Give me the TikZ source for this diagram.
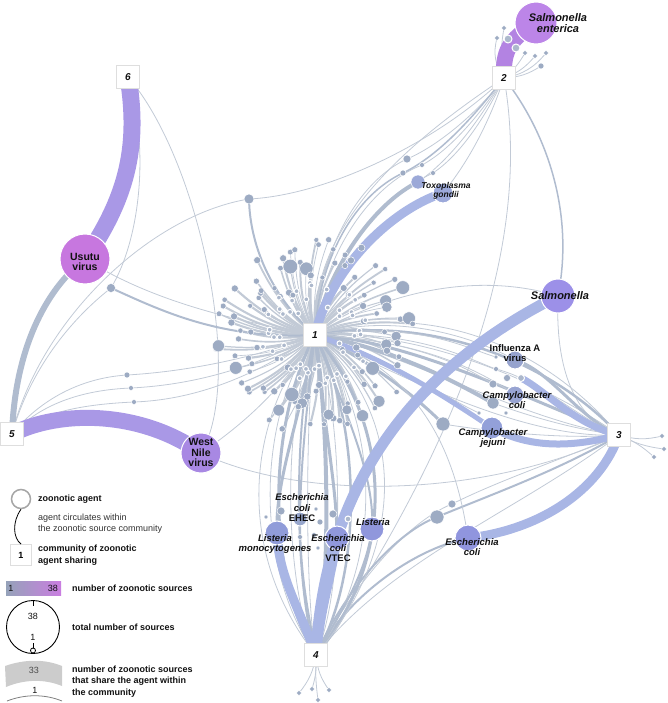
\documentclass[tikz,border=0pt]{standalone}
\usepackage{fontspec}
\setmainfont{Liberation Sans}
\definecolor{thinl}{HTML}{C2CAD6}
\definecolor{midl}{HTML}{B0BCCF}
\definecolor{bandb}{HTML}{A9B6E5}
\definecolor{bandp}{HTML}{A998E6}
\definecolor{bandpp}{HTML}{B383E2}
\definecolor{dotc}{HTML}{9DABC3}
\definecolor{boxl}{HTML}{DEDEDE}
\definecolor{txt}{HTML}{111111}
\definecolor{usuC}{HTML}{C777DF}
\definecolor{wnvC}{HTML}{A888E3}
\definecolor{senC}{HTML}{BC85E8}
\definecolor{salC}{HTML}{9C90E8}
\definecolor{toxC}{HTML}{9CA9DA}
\definecolor{infC}{HTML}{96A3CE}
\definecolor{ccoC}{HTML}{98A4D2}
\definecolor{cjeC}{HTML}{93A0D9}
\definecolor{lmoC}{HTML}{909CD9}
\definecolor{eheC}{HTML}{97A6CC}
\definecolor{vteC}{HTML}{9098DC}
\definecolor{lisC}{HTML}{9097DC}
\definecolor{ecoC}{HTML}{9095DE}
\tikzset{
  thinln/.style={draw=thinl,line width=0.8pt},
  midln/.style={draw=midl,line width=#1},
  midln/.default=2pt,
  bandln/.style={draw=bandb,line width=#1},
  bandln/.default=8pt,
  hubdot/.style={circle,fill=dotc,draw=white,line width=0.5pt,inner sep=0pt,minimum size=#1},
  hubdot/.default=5pt,
  ringdot/.style={circle,fill=dotc!85!white,draw=white,line width=1pt,inner sep=0pt,minimum size=#1},
  ringdot/.default=6pt,
  agent/.style={circle,draw=white,line width=1pt,inner sep=0pt,minimum size=#1},
  comm/.style={draw=boxl,fill=white,minimum size=23pt,inner sep=0pt,text=txt,font=\fontsize{10}{10}\selectfont\bfseries\itshape},
  alab/.style={text=txt,align=center,inner sep=0pt,font=\fontsize{9.5}{10}\selectfont\bfseries\itshape},
  blab/.style={text=txt,align=center,inner sep=0pt,font=\fontsize{9.5}{10}\selectfont\bfseries},
  leg/.style={text=txt,anchor=west,align=left,inner sep=0pt,font=\fontsize{9}{11.5}\selectfont\bfseries},
}
\begin{document}
\begin{tikzpicture}[x=1pt,y=-1pt]
\useasboundingbox (0,0) rectangle (667,703);
% ---------- coordinates ----------
\coordinate (h1) at (315,335);
\coordinate (h2) at (504,78);
\coordinate (h3) at (619,435);
\coordinate (h4) at (316,655);
\coordinate (h5) at (12,434);
\coordinate (h6) at (128,77);
\coordinate (usu) at (85,259);
\coordinate (wnv) at (201,453);
\coordinate (sen) at (536,23);
\coordinate (sal) at (558,296);
\coordinate (tox) at (443,193);
\coordinate (inf) at (515,360);
\coordinate (cco) at (515,395);
\coordinate (cje) at (492,428);
\coordinate (lmo) at (277,533);
\coordinate (ehe) at (300,519);
\coordinate (vte) at (337,538);
\coordinate (lis) at (372,529);
\coordinate (eco) at (468,538);
\coordinate (dA) at (249,199);
\coordinate (dB) at (111,288);
\coordinate (p1) at (407,159);
\coordinate (p2) at (422,165);
\coordinate (p3) at (403,173);
\coordinate (p4) at (433,173);
\coordinate (p5) at (418,182);
\coordinate (q1) at (127,375);
\coordinate (q2) at (131,388);
\coordinate (q3) at (134,402);
\coordinate (s1) at (496,357);
\coordinate (s2) at (496,369);
\coordinate (s3) at (507,378);
\coordinate (s4) at (521,378);
\coordinate (s5) at (493,384);
\coordinate (s6) at (493,403);
\coordinate (s7) at (479,413);
\coordinate (s8) at (506,413);
\coordinate (s9) at (443,424);
\coordinate (t1) at (266,517);
\coordinate (t2) at (281,511);
\coordinate (t3) at (316,509);
\coordinate (t4) at (320,522);
\coordinate (t5) at (333,514);
\coordinate (t6) at (300,537);
\coordinate (t7) at (314,535);
\coordinate (t8) at (318,548);
\coordinate (t9) at (348,519);
\coordinate (u1) at (437,517);
\coordinate (u2) at (452,504);
\coordinate (l21) at (504,28);
\coordinate (l22) at (497,38);
\coordinate (l23) at (508,39);
\coordinate (l24) at (516,48);
\coordinate (l25) at (525,53);
\coordinate (l26) at (535,56);
\coordinate (l27) at (546,53);
\coordinate (l28) at (541,66);
\coordinate (l31) at (662,436);
\coordinate (l32) at (664,449);
\coordinate (l33) at (654,457);
\coordinate (l41) at (299,693);
\coordinate (l42) at (312,689);
\coordinate (l43) at (318,700);
\coordinate (l44) at (329,690);

% ---------- hub rays ----------
\pgfmathsetseed{4242}
\foreach \i in {0,...,109}{
  \pgfmathsetmacro\ang{\i*3.27+3*rnd}
  \pgfmathsetmacro\len{26+74*sqrt(rnd)}
  \pgfmathsetmacro\wid{0.6+1.6*rnd}
  \pgfmathsetmacro\rr{rnd}
  \pgfmathsetmacro\mm{rnd}
  \coordinate (r\i) at ({315+\len*cos(\ang)},{335+\len*sin(\ang)});
  \draw[draw=thinl,line width=\wid pt] (h1) to[bend left=12] (r\i);
}

% ---------- thin connectors ----------
\draw[thinln] (h6) .. controls (200,160) and (245,380) .. (wnv);
\draw[thinln] (h6) .. controls (150,150) and (140,240) .. (dB);
\draw[thinln] (dB) .. controls (70,320) and (30,370) .. (h5);
\draw[thinln] (dA) .. controls (150,215) and (40,320) .. (h5);
\draw[thinln] (dA) .. controls (330,195) and (440,140) .. (h2);
\draw[thinln] (usu) .. controls (150,300) and (230,320) .. (h1);
\draw[thinln] (wnv) .. controls (250,420) and (290,380) .. (h1);
\draw[thinln] (wnv) .. controls (300,500) and (480,500) .. (h3);
\draw[thinln] (h1) .. controls (250,360) and (180,372) .. (q1) .. controls (80,378) and (40,400) .. (h5);
\draw[thinln] (h1) .. controls (250,370) and (190,385) .. (q2) .. controls (80,390) and (40,405) .. (h5);
\draw[thinln] (h1) .. controls (250,380) and (190,400) .. (q3) .. controls (90,404) and (45,410) .. (h5);
% hub -> 2
\draw[thinln] (h1) .. controls (318,250) and (360,180) .. (p1) .. controls (440,145) and (480,110) .. (h2);
\draw[thinln] (h1) .. controls (322,255) and (370,185) .. (p2) .. controls (450,150) and (480,115) .. (h2);
\draw[midln=1.5pt] (h1) .. controls (318,260) and (355,195) .. (p3) .. controls (440,155) and (475,115) .. (h2);
\draw[thinln] (h1) .. controls (328,260) and (385,195) .. (p4) .. controls (460,155) and (485,118) .. (h2);
\draw[thinln] (h1) .. controls (310,240) and (380,160) .. (h2);
\draw[thinln] (p5) .. controls (450,160) and (480,120) .. (h2);
\draw[thinln] (tox) .. controls (470,160) and (490,120) .. (h2);
\draw[midln=1.5pt] (sal) .. controls (575,210) and (545,130) .. (h2);
\draw[thinln] (h2) .. controls (540,280) and (420,500) .. (h4);
% salmonella
\draw[thinln] (sal) .. controls (555,370) and (575,420) .. (h3);
\draw[thinln] (sal) .. controls (480,272) and (390,290) .. (h1);
% hub -> 3
\draw[thinln] (h1) .. controls (420,300) and (540,340) .. (h3);
\draw[midln=2.5pt] (h1) .. controls (430,315) and (550,360) .. (h3);
\draw[thinln] (h1) .. controls (420,330) and (540,380) .. (h3);
\draw[midln=3pt] (h1) .. controls (410,340) and (530,400) .. (h3);
\draw[thinln] (h1) .. controls (400,350) and (520,420) .. (h3);
\draw[thinln] (h1) .. controls (390,370) and (520,440) .. (h3);
\draw[midln=3pt] (h1) .. controls (370,360) and (420,400) .. (s9);
\draw[thinln] (s9) .. controls (480,430) and (560,440) .. (h3);
\draw[thinln] (h1) .. controls (400,310) and (480,340) .. (inf);
\draw[midln=3pt] (inf) .. controls (550,370) and (580,420) .. (h3);
\draw[thinln] (h1) .. controls (420,320) and (470,350) .. (s1);
\draw[thinln] (h1) .. controls (420,330) and (470,360) .. (s2);
\draw[thinln] (h1) .. controls (420,340) and (470,370) .. (s5);
\draw[thinln] (s2) .. controls (540,380) and (580,420) .. (h3);
\draw[thinln] (h1) .. controls (420,340) and (480,370) .. (cco);
\draw[midln=4pt] (h1) .. controls (400,350) and (460,385) .. (s6);
\draw[thinln] (s6) .. controls (540,420) and (580,430) .. (h3);
\draw[thinln] (h1) .. controls (390,360) and (450,400) .. (s7);
% 3 -> 4
\draw[thinln] (h3) .. controls (560,460) and (500,480) .. (u2) .. controls (400,525) and (345,600) .. (h4);
\draw[midln=2pt] (h3) .. controls (560,470) and (490,495) .. (u1) .. controls (390,535) and (340,600) .. (h4);
\draw[thinln] (h3) .. controls (520,510) and (390,560) .. (h4);
\draw[midln=2pt] (eco) .. controls (410,550) and (345,600) .. (h4);
\draw[thinln] (eco) .. controls (455,450) and (420,370) .. (h1);
% hub -> 4 fan
\draw[thinln] (h1) .. controls (255,420) and (255,570) .. (h4);
\draw[midln=3pt] (h1) .. controls (265,430) and (268,580) .. (h4);
\draw[thinln] (h1) .. controls (280,420) and (285,590) .. (h4);
\draw[midln=2pt] (h1) .. controls (292,430) and (295,590) .. (h4);
\draw[thinln] (h1) .. controls (305,420) and (305,600) .. (h4);
\draw[midln=4pt] (h1) .. controls (330,430) and (330,590) .. (h4);
\draw[thinln] (h1) .. controls (345,420) and (345,590) .. (h4);
\draw[midln=2.5pt] (h1) .. controls (360,420) and (365,570) .. (h4);
\draw[thinln] (h1) .. controls (380,420) and (385,560) .. (h4);
\draw[midln=3pt] (h1) .. controls (395,430) and (395,560) .. (h4);
\draw[thinln] (h1) .. controls (240,430) and (240,560) .. (h4);
\draw[thinln] (h1) .. controls (410,420) and (405,550) .. (h4);
\draw[midln=2pt] (h1) .. controls (350,420) and (375,480) .. (lis);
\draw[midln=2pt] (lis) .. controls (365,580) and (335,620) .. (h4);
\draw[midln=3pt] (h1) .. controls (300,420) and (275,480) .. (lmo);
\draw[midln=3pt] (h1) .. controls (325,430) and (337,490) .. (vte);
\draw[midln=2pt] (h1) .. controls (305,420) and (300,480) .. (ehe);
\draw[midln=2pt] (ehe) .. controls (300,580) and (310,620) .. (h4);
% extra hub agents
\draw[midln=2pt] (h1) .. controls (275,300) and (250,250) .. (dA);
\draw[midln=2pt] (h1) .. controls (220,340) and (160,310) .. (dB);
\draw[midln=4pt] (h1) .. controls (330,260) and (380,200) .. (p5);
% leaves
\foreach \n/\b in {l21/10,l22/25,l23/15,l24/5,l25/-10,l26/-15,l27/-20,l28/-15}{
  \draw[thinln] (h2) to[bend left=\b] (\n);
}
\foreach \n/\b in {l31/-15,l32/-10,l33/10}{
  \draw[thinln] (h3) to[bend left=\b] (\n);
}
\foreach \n/\b in {l41/15,l42/10,l43/-5,l44/-15}{
  \draw[thinln] (h4) to[bend left=\b] (\n);
}

% ---------- bands ----------
\draw[draw=bandp,line width=17pt] (h6) .. controls (140,150) and (125,200) .. (usu);
\draw[midln=6pt] (usu) .. controls (45,290) and (15,350) .. (h5);
\draw[draw=bandp,line width=16pt] (h5) .. controls (60,410) and (140,410) .. (wnv);
\draw[draw=bandpp,line width=16pt] (h2) .. controls (503,52) and (508,40) .. (sen);
\draw[bandln=9pt] (h1) .. controls (330,270) and (390,210) .. (tox);
\draw[bandln=9pt] (h4) .. controls (300,610) and (278,575) .. (lmo);
\draw[bandln=9pt] (h4) .. controls (322,600) and (332,575) .. (vte);
\draw[bandln=11pt] (h4) .. controls (325,470) and (430,360) .. (sal);
\draw[bandln=9pt] (h3) .. controls (600,490) and (540,530) .. (eco);
\draw[bandln=7pt] (h3) .. controls (570,448) and (530,448) .. (cje);
\draw[bandln=7pt] (h3) .. controls (575,425) and (545,390) .. (s4);
\draw[bandln=5pt] (h1) .. controls (390,360) and (450,400) .. (cje);

% ---------- hub dots ----------
\pgfmathsetseed{4242}
\foreach \i in {0,...,109}{
  \pgfmathsetmacro\ang{\i*3.27+3*rnd}
  \pgfmathsetmacro\len{26+74*sqrt(rnd)}
  \pgfmathsetmacro\wid{0.6+1.6*rnd}
  \pgfmathsetmacro\rr{rnd}
  \pgfmathsetmacro\mm{rnd}
  \pgfmathsetmacro\ds{(\rr<0.11 && \len>60) ? 10+5*\rr/0.11 : (\rr<0.3 ? 7+\rr : 4.5+2*\rr)}
  \pgfmathtruncatemacro\hasmid{(\mm<0.5 && \len>45) ? 1 : 0}
  \ifnum\hasmid=1
    \path (h1) to[bend left=12] node[pos=0.55,ringdot=5pt]{} (r\i);
  \fi
  \node[hubdot=\ds pt] (rd\i) at (r\i) {};
}

% ---------- other small agents ----------
\node[hubdot=10pt] (ndA) at (dA) {};
\node[hubdot=9pt] (ndB) at (dB) {};
\node[hubdot=8pt] (np1) at (p1) {};
\node[hubdot=5pt] (np2) at (p2) {};
\node[hubdot=6pt] (np3) at (p3) {};
\node[hubdot=5pt] (np4) at (p4) {};
\node[hubdot=14pt,fill=toxC!90!dotc] (np5) at (p5) {};
\node[hubdot=6pt] (nq1) at (q1) {};
\node[hubdot=5pt] (nq2) at (q2) {};
\node[hubdot=5pt] (nq3) at (q3) {};
\node[hubdot=4pt] (ns1) at (s1) {};
\node[hubdot=5pt] (ns2) at (s2) {};
\node[hubdot=7pt] (ns3) at (s3) {};
\node[ringdot=7pt] (ns4) at (s4) {};
\node[hubdot=8pt] (ns5) at (s5) {};
\node[hubdot=12pt] (ns6) at (s6) {};
\node[hubdot=4pt] (ns7) at (s7) {};
\node[hubdot=4pt] (ns8) at (s8) {};
\node[hubdot=14pt] (ns9) at (s9) {};
\node[hubdot=4pt] (nt1) at (t1) {};
\node[hubdot=8pt] (nt2) at (t2) {};
\node[hubdot=4pt] (nt3) at (t3) {};
\node[hubdot=6pt] (nt4) at (t4) {};
\node[hubdot=8pt] (nt5) at (t5) {};
\node[hubdot=5pt] (nt6) at (t6) {};
\node[hubdot=5pt] (nt7) at (t7) {};
\node[hubdot=4pt] (nt8) at (t8) {};
\node[ringdot=6pt] (nt9) at (t9) {};
\node[hubdot=14pt] (nu1) at (u1) {};
\node[hubdot=8pt] (nu2) at (u2) {};
\foreach \n in {l21,l22,l25,l26,l27,l31,l32,l33,l41,l42,l43,l44}{
  \node[hubdot=4.5pt] (n\n) at (\n) {};
}
\node[ringdot=8pt] (nl23) at (l23) {};
\node[ringdot=8pt] (nl24) at (l24) {};
\node[hubdot=6pt] (nl28) at (l28) {};

% ---------- named agents ----------
\node[agent=50pt,fill=usuC] (nusu) at (usu) {};
\node[agent=40pt,fill=wnvC] (nwnv) at (wnv) {};
\node[agent=42pt,fill=senC] (nsen) at (sen) {};
\node[agent=34pt,fill=salC] (nsal) at (sal) {};
\node[agent=20pt,fill=toxC] (ntox) at (tox) {};
\node[agent=18pt,fill=infC] (ninf) at (inf) {};
\node[agent=18pt,fill=ccoC] (ncco) at (cco) {};
\node[agent=22pt,fill=cjeC] (ncje) at (cje) {};
\node[agent=24pt,fill=lmoC] (nlmo) at (lmo) {};
\node[agent=14pt,fill=eheC] (nehe) at (ehe) {};
\node[agent=24pt,fill=vteC] (nvte) at (vte) {};
\node[agent=24pt,fill=lisC] (nlis) at (lis) {};
\node[agent=26pt,fill=ecoC] (neco) at (eco) {};

% ---------- labels ----------
\node[alab,font=\fontsize{11}{11}\selectfont\bfseries\itshape] at (558,23.5) {Salmonella\\enterica};
\node[alab,font=\fontsize{8.5}{9}\selectfont\bfseries\itshape] at (446,190.5) {Toxoplasma\\gondii};
\node[alab,font=\fontsize{11}{11}\selectfont\bfseries\itshape] at (560,296) {Salmonella};
\node[blab] at (515,353) {Influenza A\\virus};
\node[alab] at (517,400) {Campylobacter\\coli};
\node[alab] at (493,438) {Campylobacter\\jejuni};
\node[blab,font=\fontsize{9.5}{10.5}\selectfont\bfseries] at (302,508) {{\itshape Escherichia}\\{\itshape coli}\\EHEC};
\node[alab] at (275,544) {Listeria\\monocytogenes};
\node[blab] at (338,548.5) {{\itshape Escherichia}\\{\itshape coli}\\VTEC};
\node[alab] at (373,522) {Listeria};
\node[alab] at (472,547.5) {Escherichia\\coli};
\node[blab,font=\fontsize{10.5}{10}\selectfont\bfseries] at (85,262) {Usutu\\virus};
\node[blab,font=\fontsize{10.5}{10.5}\selectfont\bfseries] at (201,452.5) {West\\Nile\\virus};

% ---------- community boxes ----------
\node[comm] (c1) at (h1) {1};
\node[comm] (c2) at (h2) {2};
\node[comm] (c3) at (h3) {3};
\node[comm] (c4) at (h4) {4};
\node[comm] (c5) at (h5) {5};
\node[comm] (c6) at (h6) {6};

% ---------- legend ----------
\node[circle,draw=black!35,line width=1.5pt,fill=white,minimum size=19pt,inner sep=0pt] (lgc) at (21,499) {};
\node[leg] (lgt1) at (38,499) {zoonotic agent};
\node[leg,font=\fontsize{9}{11.5}\selectfont,text=black!80] (lgt2) at (38,523.5) {agent circulates within\\the zoonotic source community};
\node[draw=boxl,line width=1pt,fill=white,minimum size=21pt,inner sep=0pt,font=\fontsize{9}{9}\selectfont\bfseries] (lgb) at (21,555) {1};
\draw[black,line width=0.8pt] (lgc.south) .. controls (12,522) and (13,538) .. (lgb.north);
\node[leg] (lgt3) at (38,555) {community of zoonotic\\agent sharing};
\shade[left color=dotc!95!black,right color=usuC!95!white] (6,581) rectangle (61,595);
\node[inner sep=0pt,font=\fontsize{9}{9}\selectfont,text=txt] (cb1) at (11,588) {1};
\node[inner sep=0pt,font=\fontsize{9}{9}\selectfont,text=txt] (cb38) at (53,588) {38};
\node[leg] (lgt4) at (72,588) {number of zoonotic sources};
\node[circle,draw=black,line width=0.9pt,minimum size=53pt,inner sep=0pt] (tc) at (33,627) {};
\draw[black,line width=0.8pt] (tc.north) -- ++(0,6);
\node[inner sep=0pt,font=\fontsize{9}{9}\selectfont,text=txt] (t38) at (33,616) {38};
\node[inner sep=0pt,font=\fontsize{9}{9}\selectfont,text=txt] (t1n) at (33,637) {1};
\node[circle,draw=black,line width=0.8pt,fill=white,minimum size=5pt,inner sep=0pt] (tsm) at (33,650.5) {};
\draw[black,line width=0.8pt] (tsm.north) -- ++(0,-5);
\node[leg] (lgt5) at (72,627) {total number of sources};
\fill[black!20] (5,666) .. controls (25,659) and (45,659) .. (62,666) -- (62,686) .. controls (45,679) and (25,679) .. (6,687) -- cycle;
\node[inner sep=0pt,font=\fontsize{9}{9}\selectfont,text=black!70] (b33) at (34,670) {33};
\node[inner sep=0pt,font=\fontsize{9}{9}\selectfont,text=txt] (b1) at (35,690) {1};
\draw[black!50,line width=0.8pt] (7,701) .. controls (25,694) and (45,694) .. (62,701);
\node[leg] (lgt6) at (72,681.5) {number of zoonotic sources\\that share the agent within\\the community};
\end{tikzpicture}
\end{document}
